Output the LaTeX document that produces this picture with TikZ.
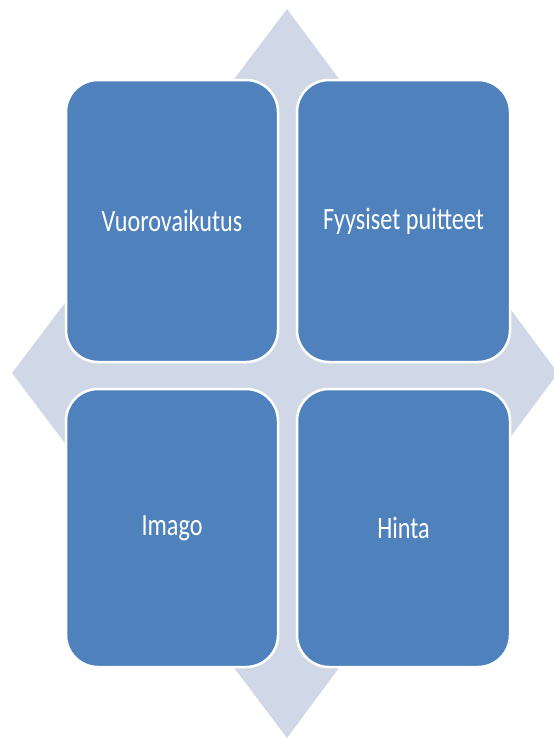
\documentclass[tikz,border=0pt]{standalone}
\usepackage{fontspec}
\setmainfont{Carlito}
\usepackage{tikz}
\definecolor{boxblue}{rgb}{0.31,0.506,0.741}
\definecolor{diamgrey}{rgb}{0.816,0.847,0.91}
\newcommand{\boxtext}[1]{\scalebox{0.78}[1]{#1}}

\begin{document}
\begin{tikzpicture}[line cap=round,line join=round,x=1pt,y=-1pt,
  field/.style={draw=white,line width=2.5pt,fill=boxblue,rounded corners=32pt,
    minimum width=212pt,text=white,font=\fontsize{31}{36}\selectfont}]
            \useasboundingbox (0,0) rectangle (554,740);
            % background diamond
            \fill[color=diamgrey] (287,9) -- (558,373) -- (287,738) -- (12,373) -- cycle;
            \node[field,minimum height=282pt] (vuoro) at (172,221) {\boxtext{Vuorovaikutus}};
            \node[field,minimum height=282pt,minimum width=213pt] (puitteet) at (403.5,221) {\boxtext{Fyysiset puitteet}};
            \node[field,minimum height=278pt] (imago) at (172,528) {\boxtext{Imago}};
            \node[field,minimum height=278pt,minimum width=213pt] (hinta) at (403.5,528) {\boxtext{Hinta}};
            \end{tikzpicture}
\end{document}
